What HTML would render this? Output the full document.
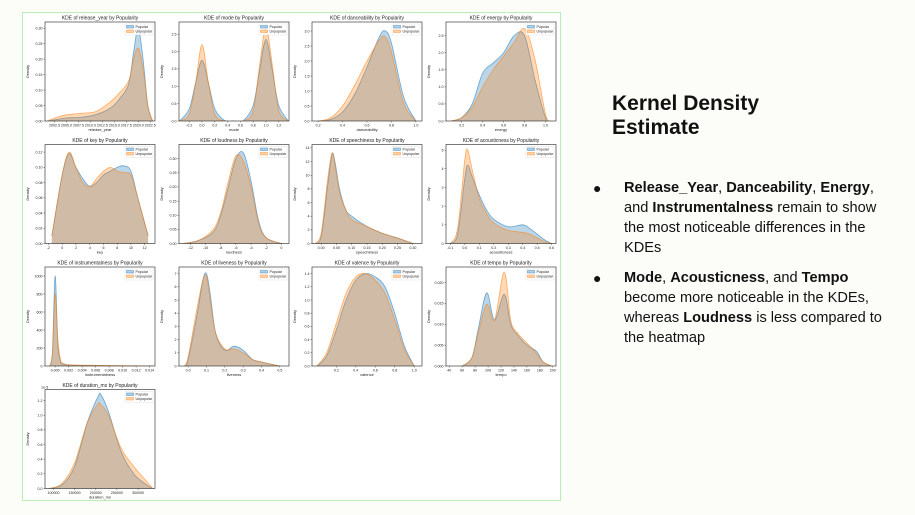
<!DOCTYPE html>
<html><head><meta charset="utf-8">
<style>
html,body{margin:0;padding:0;}
body{width:915px;height:515px;background:#fcfcf8;position:relative;overflow:hidden;font-family:"Liberation Sans",sans-serif;}
#frame{position:absolute;left:22px;top:12px;width:537px;height:487px;border:1px solid #b9efb3;background:#fff;}
#title{position:absolute;left:612px;top:92px;font-size:21px;font-weight:bold;line-height:24px;color:#111;}
.bul{position:absolute;left:624px;width:275px;font-size:14.6px;line-height:20px;color:#111;}
.dot{position:absolute;left:-31px;top:0;font-size:14px;}
</style></head><body>
<div id="frame"></div>
<svg id="chart" width="915" height="515" style="position:absolute;left:0;top:0"></svg>
<div id="title">Kernel Density<br>Estimate</div>
<div class="bul" style="top:178px"><span class="dot">●</span><b>Release_Year</b>, <b>Danceability</b>, <b>Energy</b>, and <b>Instrumentalness</b> remain to show the most noticeable differences in the KDEs</div>
<div class="bul" style="top:268px"><span class="dot">●</span><b>Mode</b>, <b>Acousticness</b>, and <b>Tempo</b> become more noticeable in the KDEs, whereas <b>Loudness</b> is less compared to the heatmap</div>
<script>
const releaseYearX=[2001,2003,2005,2008,2011,2014,2016,2018,2019,2020,2021,2022,2023];
const releaseYearPop=[0,0.005,0.01,0.012,0.02,0.04,0.07,0.12,0.22,0.30,0.2,0.05,0];
const releaseYearUnpop=[0,0.012,0.02,0.025,0.03,0.06,0.09,0.13,0.2,0.235,0.17,0.05,0];
const modeX=[-0.35,-0.2,-0.1,0,0.1,0.2,0.35,0.5,0.65,0.8,0.9,1,1.1,1.2,1.35];
const modePop=[0,0.35,1.1,1.75,1.1,0.35,0.02,0,0.02,0.45,1.45,2.35,1.45,0.45,0];
const modeUnpop=[0,0.2,1.1,2.2,1.1,0.2,0,0,0,0.3,1.6,2.7,1.6,0.3,0];
const danceX=[0.2,0.3,0.4,0.5,0.6,0.7,0.75,0.8,0.9,1.0];
const dancePop=[0,0.05,0.3,0.9,1.8,2.8,3.0,2.6,0.8,0];
const danceUnpop=[0,0.1,0.5,1.2,2.0,2.7,2.8,2.3,0.6,0];
const energyX=[0.1,0.2,0.3,0.4,0.5,0.6,0.7,0.8,0.9,1.0,1.05];
const energyPop=[0,0.1,0.5,1.4,1.7,2.0,2.5,2.5,1.2,0.1,0];
const energyUnpop=[0,0.1,0.4,1.0,1.5,1.9,2.3,2.7,1.8,0.2,0];
const keyX=[-1.5,0,1,2,3,4,5,6,7,8,9,10,11,12.5];
const keyPop=[0.01,0.09,0.118,0.1,0.085,0.075,0.08,0.09,0.095,0.1,0.102,0.095,0.06,0.01];
const keyUnpop=[0.01,0.09,0.12,0.1,0.08,0.075,0.085,0.095,0.1,0.095,0.093,0.09,0.06,0.01];
const loudX=[-13,-11,-9,-8,-7,-6,-5,-4,-3,-2,0];
const loudPop=[0,0.01,0.04,0.1,0.2,0.3,0.32,0.22,0.08,0.02,0];
const loudUnpop=[0,0.01,0.05,0.11,0.22,0.31,0.29,0.2,0.07,0.02,0];
const speechX=[-0.02,0,0.02,0.035,0.045,0.06,0.08,0.1,0.15,0.2,0.25,0.3];
const speechPop=[0,1,8,13,12,8,5,4,2.5,1.5,0.8,0];
const speechUnpop=[0,1.5,9,13.2,11.5,7.5,5,3.5,2.5,1.5,0.8,0];
const acousX=[-0.1,-0.05,0,0.02,0.05,0.1,0.15,0.2,0.3,0.4,0.45,0.5,0.55,0.6];
const acousPop=[0,0.5,3.5,4.2,3.6,2.6,1.8,1.3,0.9,1.0,0.8,0.5,0.2,0];
const acousUnpop=[0,0.8,4.5,5.0,4.0,2.4,1.6,1.1,0.7,0.6,0.5,0.3,0.1,0];
const instrX=[-0.0008,-0.0004,0,0.0004,0.0008,0.0012,0.002,0.004,0.008,0.0145];
const instrPop=[0,150,1000,250,50,20,10,5,2,0];
const instrUnpop=[0,150,800,300,70,30,15,10,5,0];
const liveX=[-0.02,0,0.05,0.08,0.1,0.12,0.15,0.2,0.25,0.3,0.35,0.4,0.5];
const livePop=[0,0.5,4,6.5,7,5.5,2.5,1.2,1.5,1.2,0.5,0.3,0];
const liveUnpop=[0,0.7,4.5,6.5,6.8,5,2.5,1.3,1.3,1.0,0.5,0.3,0];
const valX=[0,0.1,0.2,0.3,0.4,0.5,0.6,0.7,0.8,0.9,1];
const valPop=[0,0.15,0.55,1.0,1.3,1.4,1.35,1.2,0.8,0.3,0];
const valUnpop=[0,0.2,0.65,1.1,1.35,1.4,1.3,1.1,0.7,0.25,0];
const tempoX=[60,75,85,98,110,125,135,145,160,175,185,198];
const tempoPop=[0,0.002,0.009,0.0175,0.011,0.0172,0.01,0.0075,0.005,0.0035,0.001,0];
const tempoUnpop=[0,0.002,0.008,0.0148,0.011,0.0225,0.011,0.008,0.0055,0.003,0.001,0];
const durX=[90000,120000,150000,180000,205000,212000,230000,260000,290000,320000,335000];
const durPop=[0,0.05,0.3,0.9,1.25,1.28,1.05,0.5,0.2,0.05,0];
const durUnpop=[0,0.07,0.35,0.9,1.15,1.14,1.0,0.55,0.3,0.1,0];

const panels=[
 {name:'release_year',xs:releaseYearX,p:releaseYearPop,u:releaseYearUnpop,xd:[2000.5,2023.5],yd:[0,0.32],xt:[2002.5,2005,2007.5,2010,2012.5,2015,2017.5,2020,2022.5],xtl:['2002.5','2005.0','2007.5','2010.0','2012.5','2015.0','2017.5','2020.0','2022.5'],yt:[0,0.05,0.1,0.15,0.2,0.25,0.3],ytl:['0.00','0.05','0.10','0.15','0.20','0.25','0.30']},
 {name:'mode',xs:modeX,p:modePop,u:modeUnpop,xd:[-0.36,1.36],yd:[0,2.85],xt:[-0.2,0,0.2,0.4,0.6,0.8,1,1.2],xtl:['-0.2','0.0','0.2','0.4','0.6','0.8','1.0','1.2'],yt:[0,0.5,1,1.5,2,2.5],ytl:['0.0','0.5','1.0','1.5','2.0','2.5']},
 {name:'danceability',xs:danceX,p:dancePop,u:danceUnpop,xd:[0.15,1.05],yd:[0,3.3],xt:[0.2,0.4,0.6,0.8,1.0],xtl:['0.2','0.4','0.6','0.8','1.0'],yt:[0,0.5,1,1.5,2,2.5,3],ytl:['0.0','0.5','1.0','1.5','2.0','2.5','3.0']},
 {name:'energy',xs:energyX,p:energyPop,u:energyUnpop,xd:[0.05,1.1],yd:[0,2.9],xt:[0.2,0.4,0.6,0.8,1.0],xtl:['0.2','0.4','0.6','0.8','1.0'],yt:[0,0.5,1,1.5,2,2.5],ytl:['0.0','0.5','1.0','1.5','2.0','2.5']},
 {name:'key',xs:keyX,p:keyPop,u:keyUnpop,xd:[-2.5,13.5],yd:[0,0.13],xt:[-2,0,2,4,6,8,10,12],xtl:['-2','0','2','4','6','8','10','12'],yt:[0,0.02,0.04,0.06,0.08,0.1,0.12],ytl:['0.00','0.02','0.04','0.06','0.08','0.10','0.12']},
 {name:'loudness',xs:loudX,p:loudPop,u:loudUnpop,xd:[-13.5,1],yd:[0,0.35],xt:[-12,-10,-8,-6,-4,-2,0],xtl:['-12','-10','-8','-6','-4','-2','0'],yt:[0,0.05,0.1,0.15,0.2,0.25,0.3],ytl:['0.00','0.05','0.10','0.15','0.20','0.25','0.30']},
 {name:'speechiness',xs:speechX,p:speechPop,u:speechUnpop,xd:[-0.03,0.33],yd:[0,14.5],xt:[0,0.05,0.1,0.15,0.2,0.25,0.3],xtl:['0.00','0.05','0.10','0.15','0.20','0.25','0.30'],yt:[0,2,4,6,8,10,12,14],ytl:['0','2','4','6','8','10','12','14']},
 {name:'acousticness',xs:acousX,p:acousPop,u:acousUnpop,xd:[-0.13,0.63],yd:[0,5.3],xt:[-0.1,0,0.1,0.2,0.3,0.4,0.5,0.6],xtl:['-0.1','0.0','0.1','0.2','0.3','0.4','0.5','0.6'],yt:[0,1,2,3,4,5],ytl:['0','1','2','3','4','5']},
 {name:'instrumentalness',xs:instrX,p:instrPop,u:instrUnpop,xd:[-0.0015,0.0148],yd:[0,1100],xt:[0,0.002,0.004,0.006,0.008,0.01,0.012,0.014],xtl:['0.000','0.002','0.004','0.006','0.008','0.010','0.012','0.014'],yt:[0,200,400,600,800,1000],ytl:['0','200','400','600','800','1000']},
 {name:'liveness',xs:liveX,p:livePop,u:liveUnpop,xd:[-0.05,0.55],yd:[0,7.5],xt:[0,0.1,0.2,0.3,0.4,0.5],xtl:['0.0','0.1','0.2','0.3','0.4','0.5'],yt:[0,1,2,3,4,5,6,7],ytl:['0','1','2','3','4','5','6','7']},
 {name:'valence',xs:valX,p:valPop,u:valUnpop,xd:[-0.05,1.08],yd:[0,1.5],xt:[0.2,0.4,0.6,0.8,1.0],xtl:['0.2','0.4','0.6','0.8','1.0'],yt:[0,0.2,0.4,0.6,0.8,1,1.2,1.4],ytl:['0.0','0.2','0.4','0.6','0.8','1.0','1.2','1.4']},
 {name:'tempo',xs:tempoX,p:tempoPop,u:tempoUnpop,xd:[35,205],yd:[0,0.0237],xt:[40,60,80,100,120,140,160,180,200],xtl:['40','60','80','100','120','140','160','180','200'],yt:[0,0.005,0.01,0.015,0.02],ytl:['0.000','0.005','0.010','0.015','0.020']},
 {name:'duration_ms',xs:durX,p:durPop,u:durUnpop,xd:[80000,340000],yd:[0,1.35],xt:[100000,150000,200000,250000,300000],xtl:['100000','150000','200000','250000','300000'],yt:[0,0.2,0.4,0.6,0.8,1,1.2],ytl:['0.0','0.2','0.4','0.6','0.8','1.0','1.2'],off:'1e-5'}
];
const NS='http://www.w3.org/2000/svg';
const svg=document.getElementById('chart');
function mk(t,a,parent){const e=document.createElementNS(NS,t);for(const k in a)e.setAttribute(k,a[k]);(parent||svg).appendChild(e);return e;}
function smooth(pts){let d='M'+pts[0][0]+','+pts[0][1];for(let i=0;i<pts.length-1;i++){const p0=pts[Math.max(0,i-1)],p1=pts[i],p2=pts[i+1],p3=pts[Math.min(pts.length-1,i+2)];const c1x=p1[0]+(p2[0]-p0[0])/6,c1y=p1[1]+(p2[1]-p0[1])/6,c2x=p2[0]-(p3[0]-p1[0])/6,c2y=p2[1]-(p3[1]-p1[1])/6;d+=' C'+c1x+','+c1y+' '+c2x+','+c2y+' '+p2[0]+','+p2[1];}return d;}
const lefts=[45,179,312,446],tops=[22,144.5,267,389.5],W=110,H=99;
panels.forEach((pn,i)=>{
 const L=lefts[i%4],T=tops[Math.floor(i/4)];
 const g=mk('g',{});
 
 
 const sx=v=>L+(v-pn.xd[0])/(pn.xd[1]-pn.xd[0])*W;
 const sy=v=>T+H-(v-pn.yd[0])/(pn.yd[1]-pn.yd[0])*H;
 const cid='c'+i;
 const cp=mk('clipPath',{id:cid},g);mk('rect',{x:L,y:T,width:W,height:H},cp);
 [['p','#1f77b4','popular'],['u','#ff7f0e','unpopular']].forEach(([k,col,lab])=>{
  const pts=pn.xs.map((x,j)=>[sx(x),sy(pn[k][j])]);
  const d=smooth(pts);
  const a=mk('path',{d:d+' L'+pts[pts.length-1][0]+','+sy(0)+' L'+pts[0][0]+','+sy(0)+' Z',fill:col,'fill-opacity':0.3,stroke:'none','clip-path':'url(#'+cid+')'},g);
  
  
  const l=mk('path',{d:d,fill:'none',stroke:col,'stroke-opacity':0.6,'stroke-width':0.8,'clip-path':'url(#'+cid+')'},g);
  
  
 });
 mk('rect',{x:L,y:T,width:W,height:H,fill:'none',stroke:'#222','stroke-width':0.6},g);
 pn.xt.forEach((v,j)=>{const x=sx(v);mk('line',{x1:x,x2:x,y1:T+H,y2:T+H+1.5,stroke:'#222','stroke-width':0.4},g);
  const t=mk('text',{x:x,y:T+H+5.5,'font-size':3.6,'text-anchor':'middle',fill:'#222'},g);t.textContent=pn.xtl[j];});
 pn.yt.forEach((v,j)=>{const y=sy(v);mk('line',{x1:L-1.5,x2:L,y1:y,y2:y,stroke:'#222','stroke-width':0.4},g);
  const t=mk('text',{x:L-2.5,y:y+1.3,'font-size':3.6,'text-anchor':'end',fill:'#222'},g);t.textContent=pn.ytl[j];});
 const tt=mk('text',{x:L+W/2,y:T-2.5,'font-size':5,'text-anchor':'middle',fill:'#222'},g);tt.textContent='KDE of '+pn.name+' by Popularity';
 const xl=mk('text',{x:L+W/2,y:T+H+10,'font-size':4,'text-anchor':'middle',fill:'#222'},g);xl.textContent=pn.name;
 const yl=mk('text',{x:L-16,y:T+H/2,'font-size':4,'text-anchor':'middle',fill:'#222',transform:'rotate(-90 '+(L-16)+' '+(T+H/2)+')'},g);yl.textContent='Density';
 if(pn.off){const o=mk('text',{x:L-4,y:T-1,'font-size':3.6,fill:'#222'},g);o.textContent=pn.off;}
 const lg=mk('g',{},g);
 mk('rect',{x:L+W-30,y:T+2,width:28,height:11,fill:'#fff','fill-opacity':0.85,stroke:'#ccc','stroke-width':0.3},lg);
 [['#1f77b4','Popular'],['#ff7f0e','Unpopular']].forEach(([c,n],j)=>{
  mk('rect',{x:L+W-28.5,y:T+3.5+j*4.5,width:7,height:2.5,fill:c,'fill-opacity':0.35,stroke:c,'stroke-width':0.4},lg);
  const t=mk('text',{x:L+W-19.5,y:T+5.8+j*4.5,'font-size':3.6,fill:'#222'},lg);t.textContent=n;});
});
</script>
</body></html>
